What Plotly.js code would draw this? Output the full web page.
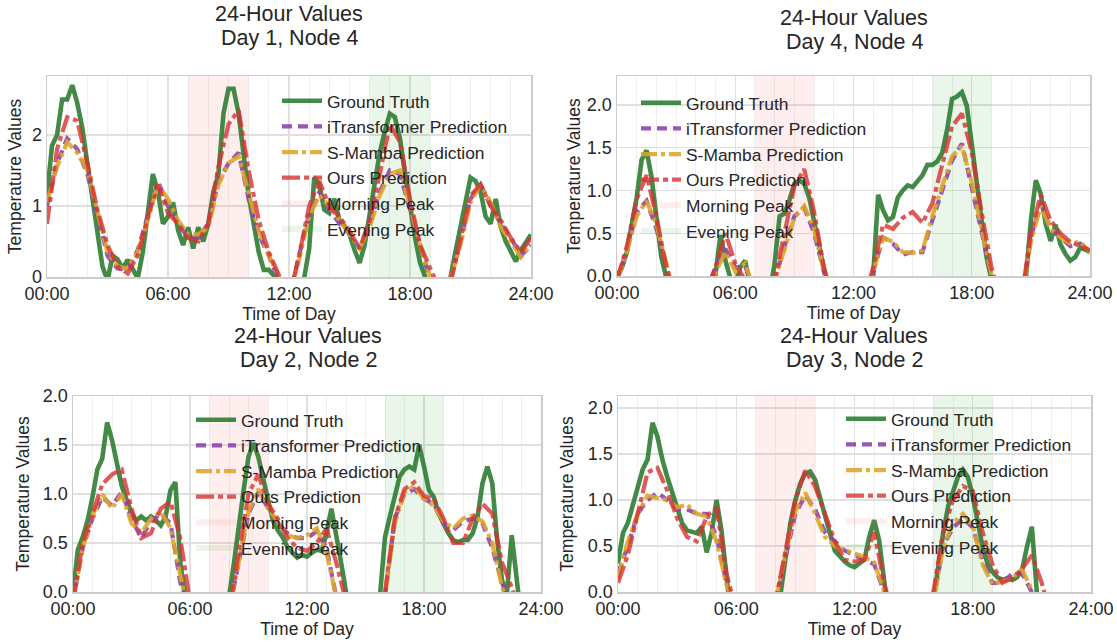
<!DOCTYPE html>
<html>
<head>
<meta charset="utf-8">
<script src="https://cdn.plot.ly/plotly-3.0.1.min.js"></script>
<style>html,body{margin:0;padding:0;background:#fff;}#chart{width:1117px;height:642px;}</style>
</head>
<body>
<div id="chart"></div>
<script>
// ---------------- DATA ----------------
const tickHours = [0, 6, 12, 18, 24];
const tickLabels = ["00:00", "06:00", "12:00", "18:00", "24:00"];
const seriesNames = ["Ground Truth", "iTransformer Prediction", "S-Mamba Prediction", "Ours Prediction"];
const peakNames = ["Morning Peak", "Evening Peak"];
const morningPeak = [7, 10];
const eveningPeak = [16, 19];
const titleMain = "24-Hour Values";
const panelSubtitles = ["Day 1, Node 4", "Day 4, Node 4", "Day 2, Node 2", "Day 3, Node 2"];

// quarter-hour time grid for ground truth
const timeQuarter = [
 0,0.25,0.5,0.75, 1,1.25,1.5,1.75, 2,2.25,2.5,2.75, 3,3.25,3.5,3.75,
 4,4.25,4.5,4.75, 5,5.25,5.5,5.75, 6,6.25,6.5,6.75, 7,7.25,7.5,7.75,
 8,8.25,8.5,8.75, 9,9.25,9.5,9.75, 10,10.25,10.5,10.75, 11,11.25,11.5,11.75,
 12,12.25,12.5,12.75, 13,13.25,13.5,13.75, 14,14.25,14.5,14.75, 15,15.25,15.5,15.75,
 16,16.25,16.5,16.75, 17,17.25,17.5,17.75, 18,18.25,18.5,18.75, 19,19.25,19.5,19.75,
 20,20.25,20.5,20.75, 21,21.25,21.5,21.75, 22,22.25,22.5,22.75, 23,23.25,23.5,23.75, 24];
// half-hour time grid for predictions
const timeHalf = [0,0.5,1,1.5,2,2.5,3,3.5,4,4.5,5,5.5,6,6.5,7,7.5,8,8.5,9,9.5,10,10.5,11,11.5,
 12,12.5,13,13.5,14,14.5,15,15.5,16,16.5,17,17.5,18,18.5,19,19.5,20,20.5,21,21.5,22,22.5,23,23.5,24];

// Panel 1: Day 1, Node 4
const truthDay1 = [
 1.15,1.85,2.0,2.5, 2.5,2.7,2.45,2.1, 1.6,1.1,0.6,0.15, -0.05,0.3,0.25,0.12,
 0.24,0.1,-0.02,0.35, 0.95,1.45,1.2,0.75, 0.85,1.05,0.66,0.45, 0.7,0.4,0.7,0.5,
 0.75,1.2,1.45,2.3, 2.65,2.65,2.3,1.7, 1.15,0.75,0.35,0.1, 0.1,0.02,-0.1,-0.2,
 -0.3,-0.3,-0.2,-0.02, 0.4,1.4,1.3,0.95, 0.9,1.1,0.8,0.72, 0.6,0.38,0.2,0.45,
 0.9,1.35,1.75,2.05, 2.3,2.25,1.95,1.47, 1.0,0.55,0.2,-0.02, -0.2,-0.3,-0.3,-0.2,
 -0.02,0.35,0.7,1.0, 1.4,1.35,1.2,0.85, 0.75,1.1,0.7,0.5, 0.35,0.22,0.38,0.5, 0.6];
const itransDay1 = [1.0,1.6, 1.95,1.8, 1.45,0.9, 0.3,0.12, 0.1,0.38, 0.85,1.35, 1.0,0.75, 0.55,0.55,
 0.75,1.35, 1.6,1.75, 1.1,0.6, 0.3,-0.05, -0.3,0.3, 0.9,1.2, 0.95,0.75, 0.6,0.42,
 0.75,1.2, 1.5,1.45, 0.95,0.4, -0.05,-0.3, -0.05,0.5, 1.1,1.3, 1.0,0.75, 0.55,0.3, 0.45];
const smambaDay1 = [1.05,1.55, 1.9,1.75, 1.5,0.95, 0.35,0.15, 0.12,0.35, 0.8,1.3, 1.1,0.8, 0.6,0.6,
 0.7,1.3, 1.6,1.7, 1.15,0.65, 0.3,0.0, -0.3,0.25, 0.85,1.15, 1.0,0.8, 0.6,0.4,
 0.7,1.15, 1.45,1.5, 1.0,0.45, 0.0,-0.3, -0.05,0.45, 1.05,1.3, 1.05,0.7, 0.5,0.28, 0.45];
const oursDay1 = [0.75,1.8, 2.25,2.2, 1.6,0.95, 0.45,0.15, 0.05,0.3, 0.85,1.3, 0.9,0.75, 0.55,0.5,
 0.75,1.55, 2.15,2.35, 1.5,0.8, 0.35,0.05, -0.3,0.3, 1.0,1.35, 1.0,0.85, 0.65,0.4,
 0.8,1.45, 2.15,1.9, 1.1,0.45, 0.1,-0.2, -0.1,0.5, 1.15,1.3, 1.0,0.8, 0.55,0.35, 0.55];

// Panel 2: Day 4, Node 4
const truthDay4 = [
 0.0,0.1,0.28,0.57, 0.92,1.36,1.47,1.16, 0.65,0.22,-0.02,-0.2, -0.3,-0.3,-0.3,-0.3,
 -0.3,-0.3,-0.3,-0.2, 0.02,0.48,0.18,-0.02, -0.1,0.1,0.18,-0.1, -0.3,-0.3,-0.3,-0.2,
 0.15,0.7,0.73,0.89, 1.08,1.12,1.08,0.92, 0.61,0.3,0.0,-0.2, -0.3,-0.3,-0.3,-0.3,
 -0.3,-0.3,-0.3,-0.3, 0.0,0.95,0.77,0.65, 0.69,0.92,1.0,1.06, 1.04,1.12,1.18,1.3,
 1.3,1.34,1.44,1.71, 2.07,2.1,2.15,1.99, 1.52,1.04,0.65,0.22, -0.02,-0.3,-0.3,-0.3,
 -0.3,-0.3,-0.3,-0.02, 0.65,1.12,0.96,0.61, 0.41,0.6,0.37,0.26, 0.18,0.22,0.33,0.31, 0.28];
const itransDay4 = [-0.05,0.3, 0.75,0.88, 0.55,0.1, -0.3,-0.3, -0.3,-0.2, 0.1,0.32, 0.1,0.12, -0.2,-0.3,
 -0.05,0.35, 0.7,0.8, 0.5,0.05, -0.3,-0.3, -0.3,-0.3, 0.05,0.45, 0.38,0.25, 0.28,0.28,
 0.65,1.0, 1.35,1.55, 1.05,0.5, 0.0,-0.3, -0.3,-0.3, 0.45,0.85, 0.55,0.45, 0.35,0.38, 0.28];
const smambaDay4 = [-0.05,0.28, 0.7,0.88, 0.6,0.12, -0.3,-0.3, -0.3,-0.2, 0.05,0.28, 0.05,0.15, -0.2,-0.3,
 -0.05,0.33, 0.68,0.82, 0.55,0.05, -0.3,-0.3, -0.3,-0.3, 0.05,0.45, 0.4,0.28, 0.27,0.3,
 0.7,1.05, 1.4,1.52, 1.1,0.55, 0.02,-0.3, -0.3,-0.3, 0.4,0.82, 0.55,0.45, 0.38,0.4, 0.28];
const oursDay4 = [-0.05,0.35, 0.9,1.18, 0.7,0.1, -0.3,-0.3, -0.3,-0.2, 0.1,0.5, 0.15,-0.05, -0.3,-0.3,
 -0.05,0.5, 1.05,1.25, 0.75,0.1, -0.3,-0.3, -0.3,-0.3, 0.1,0.6, 0.55,0.68, 0.75,0.62,
 0.85,1.3, 1.75,1.9, 1.45,0.75, 0.1,-0.3, -0.3,-0.3, 0.5,0.95, 0.65,0.5, 0.4,0.35, 0.3];

// Panel 3: Day 2, Node 2
const truthDay2 = [
 0.0,0.43,0.56,0.73, 0.97,1.25,1.36,1.73, 1.55,1.3,1.08,0.94, 0.8,0.73,0.77,0.73,
 0.77,0.73,0.68,0.77, 1.04,1.12,0.3,-0.05, -0.3,-0.3,-0.3,-0.3, -0.3,-0.3,-0.3,-0.2,
 -0.05,0.29,0.7,1.04, 1.38,1.52,1.38,1.18, 0.94,0.73,0.63,0.56, 0.46,0.4,0.35,0.38,
 0.36,0.4,0.43,0.42, 0.6,0.85,0.6,0.3, 0.0,-0.3,-0.3,-0.3, -0.3,-0.3,-0.3,-0.02,
 0.56,0.77,0.97,1.18, 1.25,1.28,1.25,1.5, 1.28,1.04,0.97,0.8, 0.7,0.6,0.53,0.51,
 0.53,0.53,0.6,0.77, 1.11,1.28,1.11,0.53, 0.12,-0.02,0.58,-0.02, -0.3,-0.3,-0.3,-0.3, -0.3];
const itransDay2 = [-0.1,0.45, 0.75,0.97, 0.88,1.02, 0.75,0.55, 0.72,0.8, 0.7,0.1, -0.3,-0.3, -0.3,-0.3,
 -0.2,0.3, 0.8,1.02, 0.85,0.7, 0.6,0.55, 0.55,0.62, 0.45,-0.05, -0.3,-0.3, -0.3,-0.3,
 -0.05,0.75, 1.0,1.05, 0.95,0.9, 0.7,0.63, 0.72,0.75, 0.7,0.45, 0.1,-0.2, -0.3,-0.3, -0.3];
const smambaDay2 = [-0.1,0.45, 0.78,1.0, 0.85,1.0, 0.7,0.6, 0.75,0.82, 0.65,0.1, -0.3,-0.3, -0.3,-0.3,
 -0.2,0.3, 0.82,1.05, 0.85,0.72, 0.58,0.55, 0.58,0.65, 0.4,-0.05, -0.3,-0.3, -0.3,-0.3,
 -0.05,0.7, 1.02,1.08, 0.95,0.88, 0.72,0.65, 0.75,0.78, 0.72,0.5, 0.05,-0.2, -0.3,-0.3, -0.3];
const oursDay2 = [-0.1,0.5, 0.8,1.1, 1.2,1.25, 0.85,0.55, 0.6,0.85, 0.92,0.55, -0.1,-0.3, -0.3,-0.3,
 -0.2,0.4, 1.0,1.2, 0.9,0.75, 0.55,0.45, 0.42,0.5, 0.65,0.3, -0.1,-0.3, -0.3,-0.3,
 0.0,0.75, 1.05,1.12, 0.98,0.95, 0.75,0.5, 0.5,0.75, 0.9,0.8, 0.3,0.05, -0.3,-0.3, -0.3];

// Panel 4: Day 3, Node 2
const truthDay3 = [
 0.31,0.64,0.75,0.93, 1.15,1.33,1.44,1.84, 1.69,1.44,1.25,1.07, 0.89,0.75,0.67,0.65,
 0.64,0.71,0.43,0.64, 1.0,0.67,0.0,-0.3, -0.3,-0.3,-0.3,-0.3, -0.3,-0.3,-0.3,-0.3,
 -0.3,-0.02,0.38,0.75, 1.0,1.18,1.29,1.31, 1.22,1.04,0.82,0.64, 0.45,0.38,0.33,0.29,
 0.27,0.31,0.35,0.6, 0.78,0.56,0.0,-0.3, -0.3,-0.3,-0.3,-0.3, -0.3,-0.3,-0.3,-0.3,
 -0.1,0.31,0.64,0.93, 1.11,1.25,1.33,1.25, 1.04,0.75,0.49,0.31, 0.22,0.16,0.13,0.15,
 0.13,0.16,0.24,0.49, 0.71,0.0,-0.3,-0.3, -0.3,-0.3,-0.3,-0.3, -0.3,-0.3,-0.3,-0.3, -0.3];
const itransDay3 = [0.2,0.5, 0.85,1.0, 1.08,1.0, 0.9,0.9, 0.85,0.85, 0.6,0.1, -0.2,-0.3, -0.3,-0.3,
 -0.1,0.4, 0.85,1.05, 0.9,0.65, 0.55,0.45, 0.4,0.35, 0.3,0.0, -0.3,-0.3, -0.3,-0.3,
 -0.1,0.5, 0.7,0.8, 0.7,0.35, 0.1,0.1, 0.2,0.2, 0.0,-0.3, -0.3,-0.3, -0.3,-0.3, -0.3];
const smambaDay3 = [0.15,0.55, 0.85,1.05, 1.02,1.0, 0.92,0.95, 0.85,0.82, 0.55,0.08, -0.2,-0.3, -0.3,-0.3,
 -0.1,0.42, 0.88,1.08, 0.85,0.6, 0.5,0.45, 0.42,0.38, 0.32,0.0, -0.3,-0.3, -0.3,-0.3,
 -0.1,0.48, 0.75,0.85, 0.72,0.3, 0.08,0.12, 0.15,0.25, 0.02,-0.3, -0.3,-0.3, -0.3,-0.3, -0.3];
const oursDay3 = [0.1,0.4, 0.85,1.3, 1.35,1.1, 0.8,0.6, 0.55,0.82, 0.92,0.2, -0.2,-0.3, -0.3,-0.3,
 -0.1,0.45, 1.0,1.32, 1.15,0.85, 0.55,0.35, 0.33,0.35, 0.65,0.1, -0.3,-0.3, -0.3,-0.3,
 0.0,0.65, 1.0,1.15, 1.1,0.65, 0.3,0.1, 0.15,0.25, 0.4,0.1, -0.3,-0.3, -0.3,-0.3, -0.3];

const yTop = [2.83, 2.34, 2.0, 2.13];

// ---------------- STYLE ----------------
const FONT = 'Arial, "Liberation Sans", sans-serif';
const TXT = '#262626';
const lineStyles = [
  {color: 'rgba(46,125,50,0.9)', width: 4.6, dash: 'solid'},
  {color: 'rgba(142,68,173,0.9)', width: 4.2, dash: '10px,6px'},
  {color: 'rgba(222,165,40,0.88)', width: 4.2, dash: '16px,4px,4px,4px'},
  {color: 'rgba(214,50,48,0.8)', width: 4.2, dash: '18px,4px,5px,4px'}
];
const peakFill = ['rgba(255,99,99,0.11)', 'rgba(60,170,60,0.11)'];

const panels = [
  {truth: truthDay1, preds: [itransDay1, smambaDay1, oursDay1]},
  {truth: truthDay4, preds: [itransDay4, smambaDay4, oursDay4]},
  {truth: truthDay2, preds: [itransDay2, smambaDay2, oursDay2]},
  {truth: truthDay3, preds: [itransDay3, smambaDay3, oursDay3]}
];

// plot-area boxes in pixels [left, right, top, bottom]
const W = 1117, H = 642;
const boxes = [[47, 531, 76, 277], [617, 1090, 76, 276], [73, 541, 396, 592], [618, 1091, 396, 592]];
const legendPos = [[277, 83], [636, 85], [191, 402], [841, 401]];
// title line centres [x, line1 y, line2 y]
const titlePos = [[289, 14, 38], [854, 18, 42], [308, 336, 360], [854, 336, 360]];
const yTitleStandoff = [6, 1, 8, 9];

const traces = [];
const annotations = [];
const layout = {
  width: W, height: H,
  margin: {l: 0, r: 0, t: 0, b: 0},
  paper_bgcolor: '#ffffff', plot_bgcolor: '#ffffff',
  font: {family: FONT, color: TXT},
  showlegend: true
};

panels.forEach((p, i) => {
  const sfx = i === 0 ? '' : String(i + 1);
  const xa = 'x' + sfx, ya = 'y' + sfx;
  const lg = 'legend' + sfx;
  const b = boxes[i];
  layout['xaxis' + sfx] = {
    domain: [b[0] / W, b[1] / W], anchor: ya, range: [0, 24],
    tickmode: 'array', tickvals: tickHours, ticktext: tickLabels,
    showgrid: true, gridcolor: '#e0e0e0', gridwidth: 1.2,
    minor: {dtick: 1, tick0: 0, showgrid: true, gridcolor: '#efefef', gridwidth: 1},
    showline: true, mirror: true, linecolor: '#cccccc', linewidth: 1.5,
    zeroline: false, ticks: '', tickfont: {size: 18, color: TXT}, automargin: false,
    title: {text: 'Time of Day', font: {size: 17.5, color: TXT}, standoff: 0}
  };
  layout['yaxis' + sfx] = {
    domain: [(H - b[3]) / H, (H - b[2]) / H], anchor: xa, range: [0, yTop[i]],
    dtick: i === 0 ? 1 : 0.5, tickformat: i === 0 ? 'd' : '.1f',
    showgrid: true, gridcolor: '#e0e0e0', gridwidth: 1.2,
    showline: true, mirror: true, linecolor: '#cccccc', linewidth: 1.5,
    zeroline: false, ticks: '', tickfont: {size: 18, color: TXT}, automargin: false,
    title: {text: 'Temperature Values', font: {size: 17.5, color: TXT}, standoff: yTitleStandoff[i]}
  };
  layout[lg] = {
    x: legendPos[i][0] / W, y: (H - legendPos[i][1]) / H, xanchor: 'left', yanchor: 'top',
    bgcolor: 'rgba(0,0,0,0)', borderwidth: 0, font: {size: 17.4, color: TXT},
    tracegroupgap: 0, itemwidth: 40
  };
  // shaded peak windows spanning the full y range of the panel
  [morningPeak, eveningPeak].forEach((pk, k) => {
    traces.push({
      type: 'scatter', mode: 'none', fill: 'toself', fillcolor: peakFill[k],
      x: [pk[0], pk[1], pk[1], pk[0], pk[0]], y: [0, 0, yTop[i], yTop[i], 0],
      xaxis: xa, yaxis: ya, name: peakNames[k], legend: lg, legendrank: 10 + k,
      hoverinfo: 'skip'
    });
  });
  // ground truth
  traces.push({
    type: 'scatter', mode: 'lines', x: timeQuarter, y: p.truth, xaxis: xa, yaxis: ya,
    name: seriesNames[0], legend: lg, legendrank: 1, line: lineStyles[0]
  });
  p.preds.forEach((arr, k) => {
    traces.push({
      type: 'scatter', mode: 'lines', x: timeHalf, y: arr, xaxis: xa, yaxis: ya,
      name: seriesNames[k + 1], legend: lg, legendrank: 2 + k, line: lineStyles[k + 1]
    });
  });
  [titleMain, panelSubtitles[i]].forEach((t, k) => {
    annotations.push({
      xref: 'paper', yref: 'paper', x: titlePos[i][0] / W, y: (H - titlePos[i][1 + k]) / H,
      xanchor: 'center', yanchor: 'middle', showarrow: false, text: t,
      font: {size: 21.5, color: TXT}
    });
  });
});
layout.annotations = annotations;

Plotly.newPlot('chart', traces, layout, {staticPlot: true, displayModeBar: false});
</script>
</body>
</html>
